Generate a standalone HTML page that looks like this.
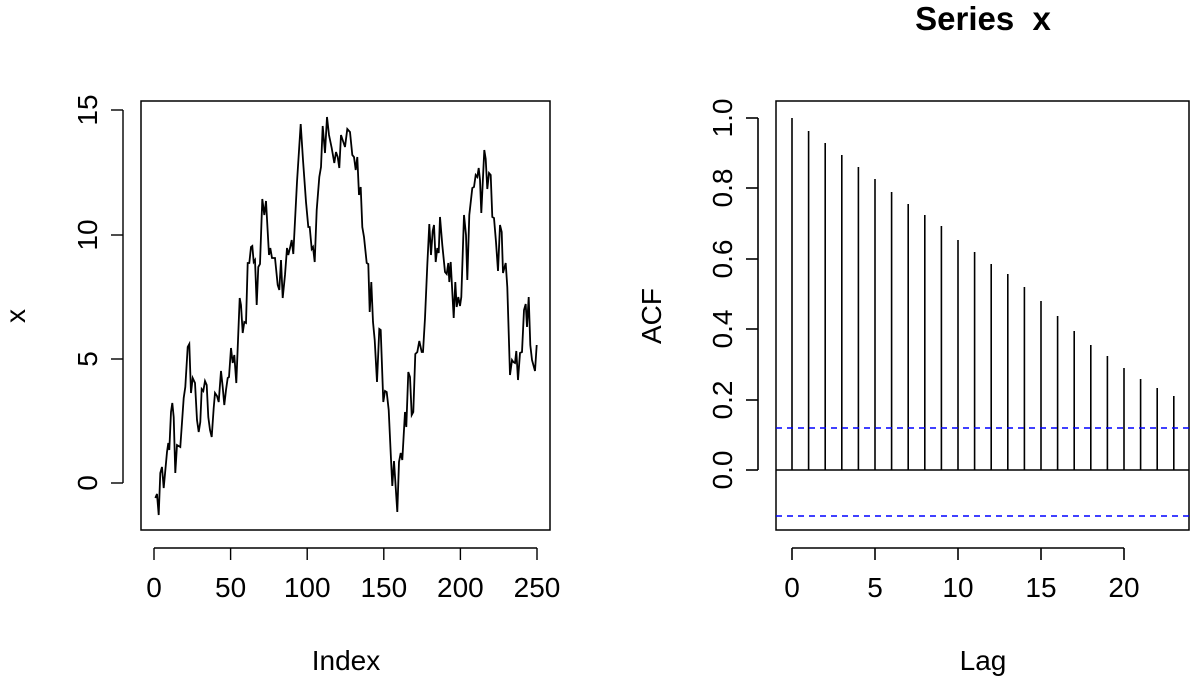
<!DOCTYPE html>
<html><head><style>body{margin:0;background:#fff}text{font-family:"Liberation Sans",sans-serif;font-size:28px;fill:#000}</style></head><body>
<svg width="1196" height="681" xmlns="http://www.w3.org/2000/svg">
<rect x="141" y="101" width="409" height="429" fill="none" stroke="#000" stroke-width="1.5"/>
<polyline fill="none" stroke="#000" stroke-width="1.8" points="155.3,498 157,494 158.7,515 160.3,473 162,467 163.7,488 167,452 168.3,443 169.3,450 171,412 172.3,403 173.7,417 175.3,473 177,445 180.3,447 183.7,398 185.3,387 187.7,347 189.3,344 191,393 192.7,378 195,383 197,420 198.7,432 200.3,422 201.7,389 203.3,391 205,381 206.7,385 208.3,417 210,430 211.7,437 213.7,408 215,393 217,396 218.7,402 221,371 222.7,387 224.3,405 226,390 227.7,378 229,377 231,348 232.7,363 234.3,355 236.3,383 239.7,298 241,305 242.7,333 244.3,322 246,323 247.7,263 249.3,263 251,247 252.3,246 253.7,262 255,260 256.7,305 258.3,267 260,264 262.3,199 264.3,215 266,201 269,255 270.3,248 272,258 275,258 277.7,285 279.3,290 281,260 282.7,298 285,275 287,248 288.3,255 290,248 291.7,240 293.3,254 297,182 300.7,124 303,160 306,202 308.3,227 309.7,227 311.7,249 313,247 314.7,262 316.7,210 319.3,177 321,167 322.7,126 325,153 327,117 329,135 331.7,148 334.3,163 336,152 337.7,157 339.3,168 341,135 345,147 347.3,129 350,132 352.3,155 354,157 355.7,170 357.3,157 359,195 360.7,187 362.3,227 364,237 366.7,263 368.3,264 369.7,312 371.3,282 373,322 374.7,340 377,382 379.3,329 380.7,330 383.3,402 385,391 386.7,392 388.7,410 390.7,453 392.3,486 394,461 397.3,512 399,462 400.7,453 402.3,460 405,412 406.3,427 408.3,372 410,377 411.7,415 413.3,412 415.3,354 417.3,352 419.3,341 421.7,352 423,352 425,318 427.3,265 429.3,224 431,255 432.7,231 434,225 435.7,262 437.3,248 438.7,253 440,217 442.3,245 445,272 446.7,274 448.3,263 449.3,282 450.7,262 453.7,318 455.3,282 456.7,307 458.3,297 460,306 461.3,297 464,215 466,235 467.3,280 469.3,215 472.3,188 474,187 475.7,175 477.3,177 478.7,168 480,180 481.3,213 484.3,150 485.7,159 487.3,189 489,173 490.7,175 492.3,217 494,218 496,242 498,271 500,225 501.7,232 503,273 505.7,263 507.3,287 510,375 512,360 513.3,362 515,363 516.3,351 518,380 520,353 522,352 524,310 525.7,304 527,327 528.7,297 530.3,345 532,360 535,371 536.7,345"/>
<g stroke="#000" stroke-width="1.4">
<line x1="154" y1="548" x2="537" y2="548"/>
<line x1="154" y1="548" x2="154" y2="560"/><line x1="230.6" y1="548" x2="230.6" y2="560"/><line x1="307.2" y1="548" x2="307.2" y2="560"/><line x1="383.8" y1="548" x2="383.8" y2="560"/><line x1="460.4" y1="548" x2="460.4" y2="560"/><line x1="537" y1="548" x2="537" y2="560"/>
<line x1="123" y1="110" x2="123" y2="483"/>
<line x1="111" y1="483" x2="123" y2="483"/><line x1="111" y1="359" x2="123" y2="359"/><line x1="111" y1="235" x2="123" y2="235"/><line x1="111" y1="110" x2="123" y2="110"/>
</g>
<g text-anchor="middle">
<text x="154" y="597">0</text><text x="230.6" y="597">50</text><text x="307.2" y="597">100</text><text x="383.8" y="597">150</text><text x="460.4" y="597">200</text><text x="537" y="597">250</text>
<text x="346" y="670">Index</text>
<text transform="translate(97,483) rotate(-90)">0</text><text transform="translate(97,359) rotate(-90)">5</text><text transform="translate(97,235) rotate(-90)">10</text><text transform="translate(97,110) rotate(-90)">15</text>
<text transform="translate(25,316) rotate(-90)">x</text>
<text x="983" y="30" style="font-weight:bold;font-size:33px">Series&#160;&#160;x</text>
<text x="983" y="670">Lag</text>
<text transform="translate(661,316) rotate(-90)">ACF</text>
<text x="792" y="597">0</text><text x="875" y="597">5</text><text x="958" y="597">10</text><text x="1041" y="597">15</text><text x="1124" y="597">20</text>
<text transform="translate(732,470) rotate(-90)">0.0</text><text transform="translate(732,400) rotate(-90)">0.2</text><text transform="translate(732,329) rotate(-90)">0.4</text><text transform="translate(732,259) rotate(-90)">0.6</text><text transform="translate(732,188) rotate(-90)">0.8</text><text transform="translate(732,118) rotate(-90)">1.0</text>
</g>
<rect x="776" y="101" width="413" height="429" fill="none" stroke="#000" stroke-width="1.5"/>
<g stroke="#000" stroke-width="1.6">
<line x1="776" y1="470" x2="1189" y2="470"/>
<line x1="792" y1="548" x2="1124" y2="548"/>
<line x1="792" y1="548" x2="792" y2="560"/><line x1="875" y1="548" x2="875" y2="560"/><line x1="958" y1="548" x2="958" y2="560"/><line x1="1041" y1="548" x2="1041" y2="560"/><line x1="1124" y1="548" x2="1124" y2="560"/>
<line x1="758" y1="118" x2="758" y2="470"/>
<line x1="746" y1="470" x2="758" y2="470"/><line x1="746" y1="400" x2="758" y2="400"/><line x1="746" y1="329" x2="758" y2="329"/><line x1="746" y1="259" x2="758" y2="259"/><line x1="746" y1="188" x2="758" y2="188"/><line x1="746" y1="118" x2="758" y2="118"/>
<line x1="792" y1="470" x2="792" y2="118"/><line x1="808.6" y1="470" x2="808.6" y2="131"/><line x1="825.2" y1="470" x2="825.2" y2="143"/><line x1="841.8" y1="470" x2="841.8" y2="155"/><line x1="858.4" y1="470" x2="858.4" y2="167"/><line x1="875" y1="470" x2="875" y2="179"/><line x1="891.6" y1="470" x2="891.6" y2="192"/><line x1="908.2" y1="470" x2="908.2" y2="204"/><line x1="924.8" y1="470" x2="924.8" y2="215"/><line x1="941.4" y1="470" x2="941.4" y2="226"/><line x1="958" y1="470" x2="958" y2="240"/><line x1="974.6" y1="470" x2="974.6" y2="252"/><line x1="991.2" y1="470" x2="991.2" y2="264"/><line x1="1007.8" y1="470" x2="1007.8" y2="274"/><line x1="1024.4" y1="470" x2="1024.4" y2="287"/><line x1="1041" y1="470" x2="1041" y2="301"/><line x1="1057.6" y1="470" x2="1057.6" y2="316"/><line x1="1074.2" y1="470" x2="1074.2" y2="331"/><line x1="1090.8" y1="470" x2="1090.8" y2="345"/><line x1="1107.4" y1="470" x2="1107.4" y2="356"/><line x1="1124" y1="470" x2="1124" y2="368"/><line x1="1140.6" y1="470" x2="1140.6" y2="379"/><line x1="1157.2" y1="470" x2="1157.2" y2="388"/><line x1="1173.8" y1="470" x2="1173.8" y2="396"/>
</g>
<g stroke="#0000ff" stroke-width="1.5" stroke-dasharray="6,5">
<line x1="776" y1="428" x2="1189" y2="428"/><line x1="776" y1="516" x2="1189" y2="516"/>
</g>
</svg>
</body></html>
